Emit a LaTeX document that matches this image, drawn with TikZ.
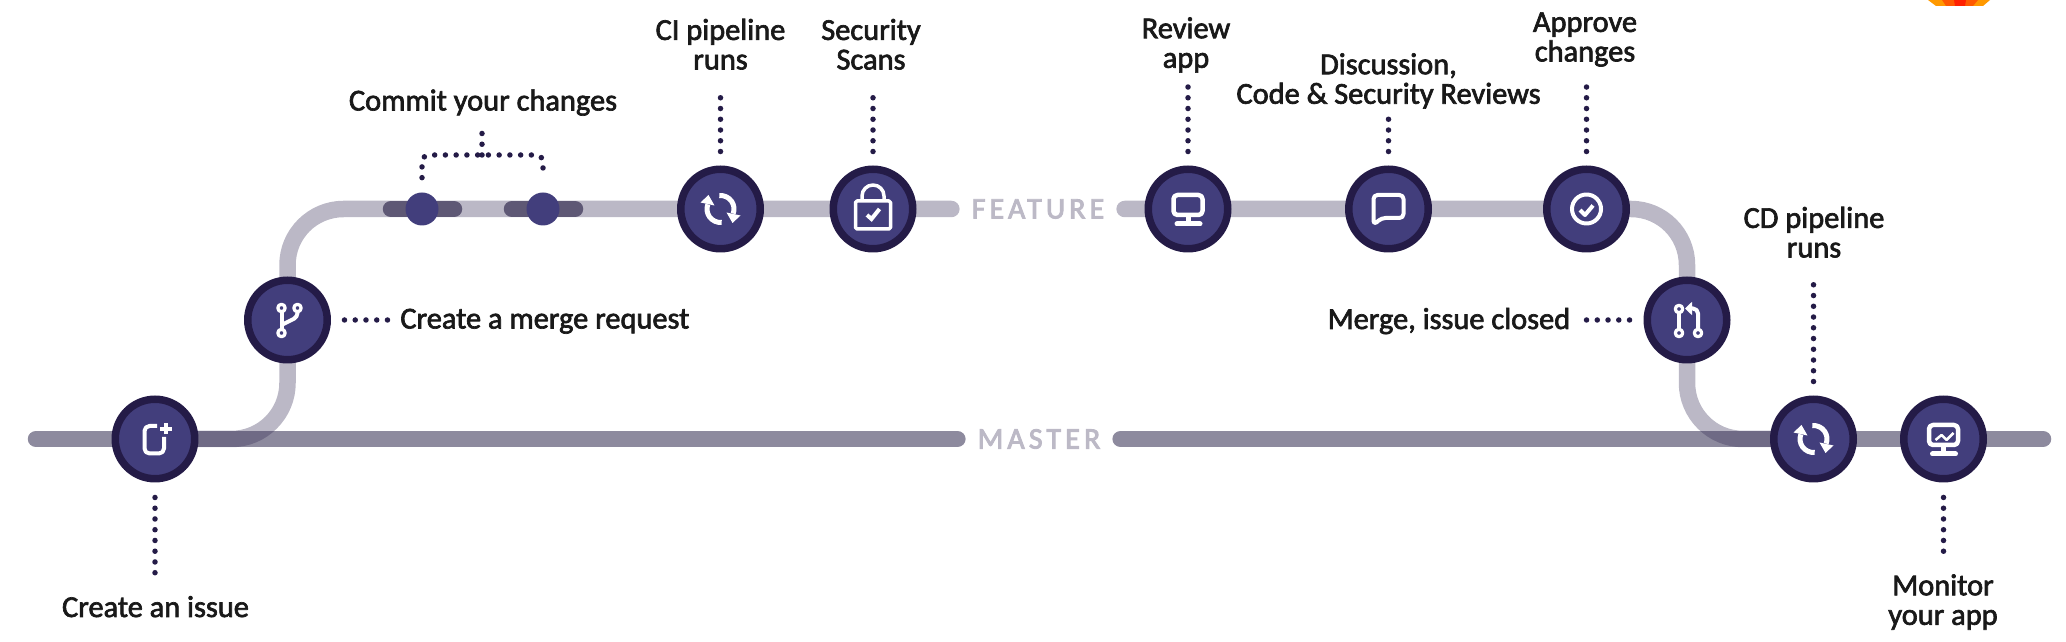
\documentclass[tikz,border=0pt]{standalone}
\usepackage{fontspec}
\setmainfont{Carlito}
\newfontfamily\labelfont[FakeBold=2.2]{Carlito}
\newfontfamily\trunkfont[LetterSpace=14, FakeBold=3]{Carlito}
\usetikzlibrary{calc}
\usetikzlibrary{backgrounds}
\usetikzlibrary{arrows.meta}

\definecolor{nodeouter}{HTML}{241B47}
\definecolor{nodeinner}{HTML}{423E7C}
\definecolor{mastercol}{HTML}{8D8A9E}
\definecolor{featurecol}{HTML}{332A54}
\definecolor{commitcol}{HTML}{5E5875}
\definecolor{trunktext}{HTML}{BCB9C6}

\tikzset{
  stepnode/.style = {circle, draw = nodeouter, fill = nodeinner, line width = .15cm,
    minimum size = 1.59cm, inner sep = 0},
  commitdot/.style = {circle, fill = nodeinner, minimum size = .66cm, inner sep = 0},
  steplabel/.style = {inner sep = 0, align = center, text = black!90,
    font = \fontsize{17.3}{16.8}\labelfont},
  trunklabel/.style = {inner xsep = .4cm, inner ysep = 0, text = trunktext,
    font = \fontsize{17}{18}\trunkfont},
  dotline/.style = {draw = nodeouter, line width = .11cm, line cap = round,
    dash pattern = on 0pt off .215cm},
  masterline/.style = {draw = mastercol, line width = .33cm, line cap = round},
  featureline/.style = {draw = featurecol, opacity = .333, line width = .33cm,
    line cap = round, rounded corners = 1.12cm},
  commitbar/.style = {draw = commitcol, line width = .33cm, line cap = round},
  iconline/.style = {draw = white, line width = .08cm, line join = round},
  syncicon/.pic = {
    \draw[iconline, line width = .1cm] (95:13.5) arc[start angle = 95, end angle = -20, radius = 13.5];
    \draw[iconline, line width = .1cm] (-85:13.5) arc[start angle = -85, end angle = -200, radius = 13.5];
    \fill[white] (6, -3.5) -- (20, -6.5) -- (12, -14) -- cycle;
    \fill[white] (-6, 3.5) -- (-20, 6.5) -- (-12, 14) -- cycle;
  },
  screenicon/.pic = {
    \draw[iconline, line width = .09cm, rounded corners = .08cm] (-14.5, 14) rectangle (14.5, -6);
    \draw[iconline, line width = .1cm, line cap = round] (-11, -15) -- (12, -15);
    \draw[iconline, line width = .1cm] (0, -7) -- (0, -14);
  }
}

\begin{document}
\begin{tikzpicture}[x = .02cm, y = .02cm]
  \useasboundingbox (0, 0) rectangle (2066, 642);

  \node[stepnode] (issue) at (155, 203) {};
  \node[stepnode] (mergereq) at (287.5, 322) {};
  \node[commitdot] (commita) at (422, 433) {};
  \node[commitdot] (commitb) at (543, 433) {};
  \node[stepnode] (ci) at (720.5, 433) {};
  \node[stepnode] (security) at (873, 433) {};
  \node[stepnode] (review) at (1188, 433) {};
  \node[stepnode] (discussion) at (1388.5, 433) {};
  \node[stepnode] (approve) at (1586.5, 433) {};
  \node[stepnode] (closed) at (1687, 322) {};
  \node[stepnode] (cd) at (1813.5, 203) {};
  \node[stepnode] (monitor) at (1943.5, 203) {};

  \node[trunklabel] (featuretext) at (1038, 433) {FEATURE};
  \node[trunklabel] (mastertext) at (1039, 203) {MASTER};
  \coordinate (masterstart) at (36, 203);
  \coordinate (masterend) at (2043, 203);
  \coordinate (brace) at (482, 487);

  \node[steplabel, anchor = base] (issuelabel) at (155.5, 25) {Create an issue};
  \node[steplabel, anchor = base west] (mergereqlabel) at (400, 313.5) {Create a merge request};
  \node[steplabel, anchor = base] (commitlabel) at (483, 531.5) {Commit your changes};
  \node[steplabel, anchor = south] (cilabel) at (720.5, 572) {CI pipeline\\runs};
  \node[steplabel, anchor = south] (securitylabel) at (871, 572) {Security\\Scans};
  \node[steplabel, anchor = south] (reviewlabel) at (1186, 569) {Review\\app};
  \node[steplabel, anchor = south] (discussionlabel) at (1388.5, 533) {Discussion,\\Code \& Security Reviews};
  \node[steplabel, anchor = south] (approvelabel) at (1585, 575) {Approve\\changes};
  \node[steplabel, anchor = base east] (closedlabel) at (1570.5, 313) {Merge, issue closed};
  \node[steplabel, anchor = south] (cdlabel) at (1814, 384) {CD pipeline\\runs};
  \node[steplabel, anchor = north] (monitorlabel) at (1943, 68) {Monitor\\your app};

  \begin{scope}[on background layer]
    \draw[masterline] (masterstart) -- (mastertext.west);
    \draw[masterline] (mastertext.east) -- (masterend);
    \draw[featureline] (issue.center) -- (mergereq |- issue.center)
      -- (mergereq |- featuretext.west) -- (featuretext.west);
    \draw[featureline] (featuretext.east) -- (closed |- featuretext.east)
      -- (closed |- cd.center) -- (cd.center);
    \draw[commitbar] ($(commita) + (-31, 0)$) -- ($(commita) + (32, 0)$);
    \draw[commitbar] ($(commitb) + (-31, 0)$) -- ($(commitb) + (32, 0)$);
  \end{scope}

  % dots between steps and texts
  \foreach \a/\b/\g in {ci/cilabel/.36cm, security/securitylabel/.36cm, review/reviewlabel/.28cm,
    discussion/discussionlabel/.1cm, approve/approvelabel/.4cm, cd/cdlabel/.34cm}{
    \draw[dotline, shorten < = .28cm, shorten > = \g] (\a) -- (\a |- \b.south);
  }
  \foreach \a/\b in {issue/issuelabel, monitor/monitorlabel}{
    \draw[dotline, shorten < = .3cm, shorten > = .3cm] (\a) -- (\a |- \b.north);
  }
  \draw[dotline, shorten < = .27cm, shorten > = .22cm] (mergereq) -- (mergereq -| mergereqlabel.west);
  \draw[dotline, shorten < = .28cm, shorten > = .26cm] (closed) -- (closed -| closedlabel.east);
  \draw[dotline, rounded corners = .14cm, shorten < = .29cm, shorten > = .29cm]
    (commita) |- (brace) -| (commitb);
  \draw[dotline, shorten > = .2cm] (brace) -- (brace |- commitlabel.south);

  % icons
  \begin{scope}[shift = {(issue.center)}]
    \draw[iconline, rounded corners = .1cm] (2, 13) -- (-10.5, 13) -- (-10.5, -14.5) -- (9, -14.5) -- (9, 2);
    \draw[iconline] (5, 10) -- (16.5, 10);
    \draw[iconline] (10.7, 4.5) -- (10.7, 15.5);
  \end{scope}
  \begin{scope}[shift = {(mergereq.center)}]
    \foreach \p in {(-6, 12), (10, 12), (-6, -13)}{
      \draw[iconline, line width = .065cm] \p circle[radius = 3.7];
    }
    \draw[iconline] (-6, 8) -- (-6, -9);
    \draw[iconline, rounded corners = .08cm] (10, 8) -- (10, 3) -- (-6, -5);
  \end{scope}
  \pic at (ci) {syncicon};
  \begin{scope}[shift = {(security.center)}]
    \draw[iconline, line width = .07cm, rounded corners = .03cm] (-17.5, 8) rectangle (17.5, -20);
    \draw[iconline, line width = .07cm] (-11, 8) -- (-11, 13) arc[start angle = 180, end angle = 0, radius = 11] -- (11, 8);
    \draw[iconline, line join = miter] (-6, -6) -- (-1.5, -10) -- (6.5, 0);
  \end{scope}
  \pic at (review) {screenicon};
  \begin{scope}[shift = {(discussion.center)}]
    \draw[iconline, rounded corners = .08cm] (-15, -16) -- (-15, 14) -- (15, 14) -- (15, -9) -- (-7, -9) -- cycle;
  \end{scope}
  \begin{scope}[shift = {(approve.center)}]
    \draw[iconline] (0, 0) circle[radius = 14.5];
    \draw[iconline] (-6.5, -1) -- (-1.5, -6) -- (6.5, 3.5);
  \end{scope}
  \begin{scope}[shift = {(closed.center)}]
    \foreach \p in {(-8, 11), (-8, -13), (11, -13)}{
      \draw[iconline, line width = .065cm] \p circle[radius = 3.7];
    }
    \draw[iconline] (-8, 7) -- (-8, -9);
    \draw[iconline, rounded corners = .1cm,
      -{Triangle[width = .26cm, length = .14cm]}] (11, -9) -- (11, 11.5) -- (-2, 11.5);
  \end{scope}
  \pic at (cd) {syncicon};
  \pic at (monitor) {screenicon};
  \draw[iconline, line width = .05cm] ($(monitor) + (-8, -1)$) -- ($(monitor) + (-2, 4)$)
    -- ($(monitor) + (3, -1)$) -- ($(monitor) + (10, 6)$);

  % piece of a logo, cut by the top edge
  \fill[fill = orange!80!yellow] (1928, 642) -- (1936, 636) -- (1983, 636) -- (1990, 642) -- cycle;
  \fill[fill = orange!70!red] (1942, 642) -- (1946, 636) -- (1973, 636) -- (1978, 642) -- cycle;
  \fill[fill = red!75!orange] (1954, 642) -- (1955, 636) -- (1965, 636) -- (1966, 642) -- cycle;
\end{tikzpicture}
\end{document}
